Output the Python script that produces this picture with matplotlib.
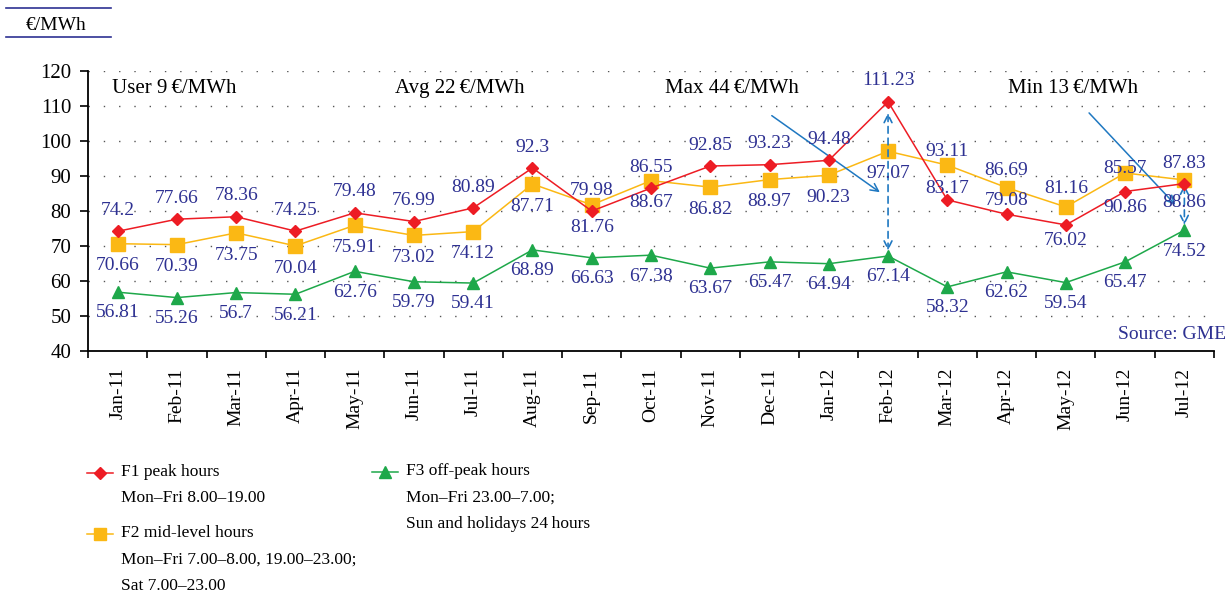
import numpy as np
import matplotlib
matplotlib.use("Agg")
import matplotlib.pyplot as plt
from matplotlib.lines import Line2D

# data
months = ['Jan-11', 'Feb-11', 'Mar-11', 'Apr-11', 'May-11', 'Jun-11', 'Jul-11', 'Aug-11',
          'Sep-11', 'Oct-11', 'Nov-11', 'Dec-11', 'Jan-12', 'Feb-12', 'Mar-12', 'Apr-12',
          'May-12', 'Jun-12', 'Jul-12']
f1_peak = [74.2, 77.66, 78.36, 74.25, 79.48, 76.99, 80.89, 92.3, 79.98, 86.55, 92.85,
           93.23, 94.48, 111.23, 83.17, 79.08, 76.02, 85.57, 87.83]
f2_mid = [70.66, 70.39, 73.75, 70.04, 75.91, 73.02, 74.12, 87.71, 81.76, 88.67, 86.82,
          88.97, 90.23, 97.07, 93.11, 86.69, 81.16, 90.86, 88.86]
f3_off = [56.81, 55.26, 56.7, 56.21, 62.76, 59.79, 59.41, 68.89, 66.63, 67.38, 63.67,
          65.47, 64.94, 67.14, 58.32, 62.62, 59.54, 65.47, 74.52]
spread_notes = ['User 9\u2009€/MWh', 'Avg 22\u2009€/MWh', 'Max 44\u2009€/MWh', 'Min 13\u2009€/MWh']

# label offsets in points (style only), the source chart shuffles them after Feb-12
f1_dy = [15] * 14 + [8, 10, -11.5, 16.5, 14.5]
f2_dy = [-16] * 14 + [9.5, 12, 13, -25, -16.5]

plt.rcParams['font.family'] = ['Liberation Serif', 'DejaVu Serif']

RED = '#ed1c24'
YEL = '#fbb814'
GRN = '#1ea84a'
LBL = '#2e3192'
ARR = '#1f78c1'

W, H = 1232, 599
fig = plt.figure(figsize=(W / 100, H / 100), dpi=100)
ax = fig.add_axes([88 / W, 1 - 351 / H, (1214 - 88) / W, (351 - 71) / H])

x = np.arange(len(months))
ax.plot(x, f1_peak, color=RED, lw=1.1, marker='D', ms=6.5, zorder=4)
ax.plot(x, f2_mid, color=YEL, lw=1.1, marker='s', ms=9.5, zorder=3)
ax.plot(x, f3_off, color=GRN, lw=1.1, marker='^', ms=9, zorder=3)

# value labels
for i in x:
    ax.annotate('{:g}'.format(f1_peak[i]), (i, f1_peak[i]), xytext=(0, f1_dy[i]),
                textcoords='offset points', ha='center', va='center', color=LBL, fontsize=14, zorder=5)
    ax.annotate('{:g}'.format(f2_mid[i]), (i, f2_mid[i]), xytext=(0, f2_dy[i]),
                textcoords='offset points', ha='center', va='center', color=LBL, fontsize=14, zorder=5)
    ax.annotate('{:g}'.format(f3_off[i]), (i, f3_off[i]), xytext=(0, -15),
                textcoords='offset points', ha='center', va='center', color=LBL, fontsize=14, zorder=5)

ax.set_xlim(-0.5, len(months) - 0.5)
ax.set_ylim(40, 120)
ax.set_yticks(np.arange(40, 121, 10))
ax.set_xticks(np.arange(-0.5, len(months)), labels=[])
ax.set_xticks(x, labels=months, minor=True)
ax.tick_params(axis='x', which='major', direction='out', length=5, width=1.2)
ax.tick_params(axis='x', which='minor', length=0, pad=12, labelrotation=90, labelsize=14)
ax.tick_params(axis='y', direction='out', length=6, width=1.2, pad=6, labelsize=15)
for s in ['top', 'right']:
    ax.spines[s].set_visible(False)
for s in ['left', 'bottom']:
    ax.spines[s].set_linewidth(1.3)

for yv in range(50, 121, 10):
    ax.axhline(yv, color='#555555', lw=1.0, ls=(0, (1, 10)), zorder=1)

# spread notes
note_x = [-0.1, 4.68, 9.24, 15.02]
for nx, txt in zip(note_x, spread_notes):
    ax.text(nx, 114.9, txt, ha='left', va='center', fontsize=15, color='black')

# arrows
ax.annotate('', xy=(12.9, 84.9), xytext=(11.0, 107.7),
            arrowprops=dict(arrowstyle='->', color=ARR, lw=1.1, mutation_scale=14))
ax.annotate('', xy=(17.88, 81.2), xytext=(16.36, 108.6),
            arrowprops=dict(arrowstyle='->', color=ARR, lw=1.1, mutation_scale=14))
ax.annotate('', xy=(13, 67.9), xytext=(13, 108.8),
            arrowprops=dict(arrowstyle='<->', color=ARR, lw=1.2, ls=(0, (4, 3)), mutation_scale=14))
ax.annotate('', xy=(18, 75.2), xytext=(18, 88.3),
            arrowprops=dict(arrowstyle='<->', color=ARR, lw=1.2, ls=(0, (4, 3)), mutation_scale=14))

ax.text(18.7, 44.6, 'Source: GME', ha='right', va='center', color=LBL, fontsize=14, clip_on=False)

# unit box top left
fig.add_artist(Line2D([6 / W, 111 / W], [1 - 8 / H, 1 - 8 / H], color=LBL, lw=1.2))
fig.add_artist(Line2D([6 / W, 111 / W], [1 - 37 / H, 1 - 37 / H], color=LBL, lw=1.2))
fig.text(56 / W, 1 - 26 / H, '€/MWh', ha='center', va='center', fontsize=14)

# legend drawn by hand
def legend_entry(x0, y0, color, marker, ms, lines):
    fig.add_artist(Line2D([x0 / W, (x0 + 26) / W], [1 - y0 / H, 1 - y0 / H], color=color, lw=1.1))
    fig.add_artist(Line2D([(x0 + 13) / W], [1 - y0 / H], color=color, marker=marker, ms=ms, lw=0))
    for k, t in enumerate(lines):
        fig.text((x0 + 34) / W, 1 - (y0 - 1 + k * 26.5) / H, t, ha='left', va='center', fontsize=12.5)

legend_entry(87, 473, RED, 'D', 6, ['F1 peak hours', 'Mon–Fri 8.00–19.00'])
legend_entry(87, 534, YEL, 's', 9, ['F2 mid-level hours', 'Mon–Fri 7.00–8.00, 19.00–23.00;', 'Sat 7.00–23.00'])
legend_entry(372, 472, GRN, '^', 8.5, ['F3 off-peak hours', 'Mon–Fri 23.00–7.00;', 'Sun and holidays 24\u2009hours'])

fig.savefig('out.png', dpi=100)
